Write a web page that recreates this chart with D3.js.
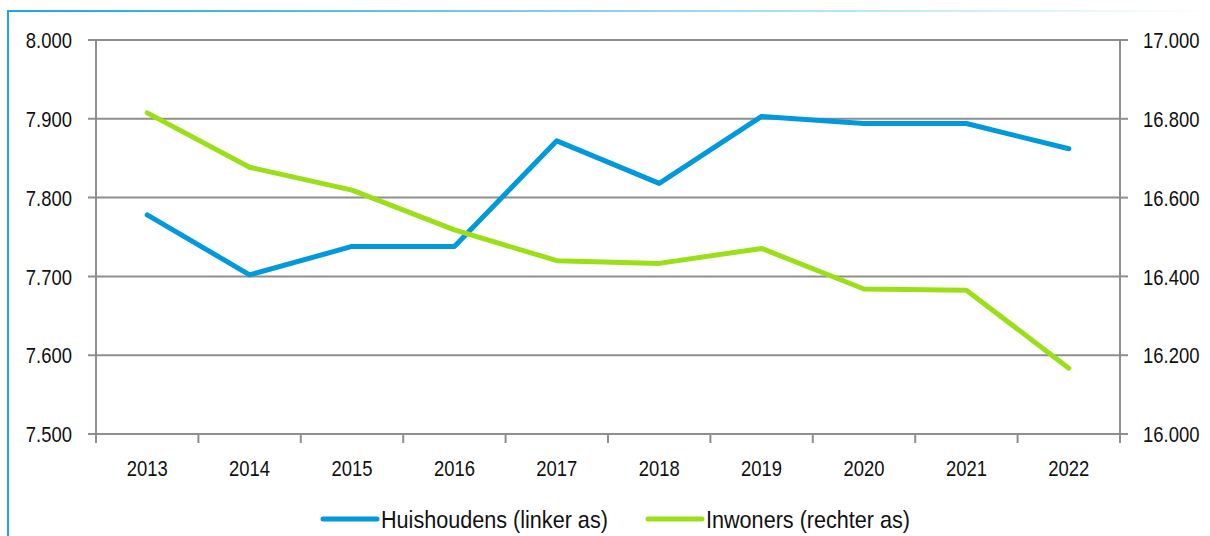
<!DOCTYPE html>
<html><head><meta charset="utf-8">
<script src="https://cdn.jsdelivr.net/npm/d3@7"></script>
<style>
html,body{margin:0;padding:0;background:#fff;}
svg{display:block;}
text{font-family:"Liberation Sans",Arial,sans-serif;fill:#111;}
</style></head>
<body>
<svg id="chart" width="1210" height="536"></svg>
<script>
const years = ["2013","2014","2015","2016","2017","2018","2019","2020","2021","2022"];
const huishoudens = [7778, 7702, 7738, 7738, 7872, 7818, 7903, 7894, 7894, 7862];
const inwoners = [16815, 16677, 16619, 16518, 16440, 16433, 16471, 16368, 16365, 16167];
const leftTicks = [7500, 7600, 7700, 7800, 7900, 8000];
const rightTicks = [16000, 16200, 16400, 16600, 16800, 17000];
const seriesNames = ["Huishoudens (linker as)", "Inwoners (rechter as)"];
const colors = ["#0099DC", "#9BDF18"];

const svg = d3.select("#chart");
const W = 1210, H = 536;
const m = {left: 96, right: 1120, top: 40, bottom: 434};
const fmt = v => d3.format(",")(v).replace(/,/g, ".");
const SX = 0.82, FS = "22.5px";

// frame
const defs = svg.append("defs");
const grad = defs.append("linearGradient").attr("id","topg").attr("x1","0").attr("x2","1").attr("y1","0").attr("y2","0");
grad.append("stop").attr("offset","0").attr("stop-color","#1DA6E0");
grad.append("stop").attr("offset","0.45").attr("stop-color","#7FCDEE");
grad.append("stop").attr("offset","1").attr("stop-color","#ffffff");
svg.append("rect").attr("x",7).attr("y",10).attr("width",W-7).attr("height",2).attr("fill","url(#topg)");
svg.append("rect").attr("x",7).attr("y",10).attr("width",2).attr("height",H-10).attr("fill","#1DA6E0");

const x = d3.scaleBand().domain(years).range([m.left, m.right]);
const yL = d3.scaleLinear().domain([7500, 8000]).range([m.bottom, m.top]);
const yR = d3.scaleLinear().domain([16000, 17000]).range([m.bottom, m.top]);

const gridC = "#8e8e8e";
svg.append("g").selectAll("line").data(leftTicks).join("line")
  .attr("x1", m.left - 8).attr("x2", m.right)
  .attr("y1", d => yL(d)).attr("y2", d => yL(d))
  .attr("stroke", gridC).attr("stroke-width", 2);
svg.append("g").selectAll("line").data(rightTicks).join("line")
  .attr("x1", m.right).attr("x2", m.right + 8)
  .attr("y1", d => yR(d)).attr("y2", d => yR(d))
  .attr("stroke", gridC).attr("stroke-width", 2);
svg.append("line").attr("x1", m.left).attr("x2", m.left).attr("y1", m.top).attr("y2", m.bottom + 9).attr("stroke", gridC).attr("stroke-width", 2);
svg.append("line").attr("x1", m.right).attr("x2", m.right).attr("y1", m.top).attr("y2", m.bottom + 9).attr("stroke", gridC).attr("stroke-width", 2);
const bounds = years.map(d => x(d)).concat([m.right]);
svg.append("g").selectAll("line").data(bounds).join("line")
  .attr("x1", d => d).attr("x2", d => d)
  .attr("y1", m.bottom).attr("y2", m.bottom + 9)
  .attr("stroke", gridC).attr("stroke-width", 2);

// labels (condensed via horizontal scale)
svg.append("g").selectAll("text").data(leftTicks).join("text")
  .attr("transform", d => `translate(72,${yL(d)}) scale(${SX},1)`).attr("dy", "0.36em")
  .attr("text-anchor", "end").style("font-size", FS).text(fmt);
svg.append("g").selectAll("text").data(rightTicks).join("text")
  .attr("transform", d => `translate(1143,${yR(d)}) scale(${SX},1)`).attr("dy", "0.36em")
  .attr("text-anchor", "start").style("font-size", FS).text(fmt);
svg.append("g").selectAll("text").data(years).join("text")
  .attr("transform", d => `translate(${x(d) + x.bandwidth() / 2},476) scale(${SX},1)`)
  .attr("text-anchor", "middle").style("font-size", FS).text(d => d);

// lines
const cx = d => x(d) + x.bandwidth() / 2;
const lineL = d3.line().x((d, i) => cx(years[i])).y(d => yL(d));
const lineR = d3.line().x((d, i) => cx(years[i])).y(d => yR(d));
svg.append("path").datum(huishoudens).attr("d", lineL).attr("fill", "none")
  .attr("stroke", colors[0]).attr("stroke-width", 5).attr("stroke-linecap", "round").attr("stroke-linejoin", "round");
svg.append("path").datum(inwoners).attr("d", lineR).attr("fill", "none")
  .attr("stroke", colors[1]).attr("stroke-width", 5).attr("stroke-linecap", "round").attr("stroke-linejoin", "round");

// legend
const legX = [323, 648];
const legY = 519;
seriesNames.forEach((n, i) => {
  svg.append("line").attr("x1", legX[i]).attr("x2", legX[i] + 54)
    .attr("y1", legY).attr("y2", legY)
    .attr("stroke", colors[i]).attr("stroke-width", 5).attr("stroke-linecap", "round");
  svg.append("text").attr("transform", `translate(${legX[i] + 58},${legY}) scale(0.9,1)`).attr("dy", "0.36em")
    .style("font-size", "24px").text(n);
});
</script>
</body></html>
